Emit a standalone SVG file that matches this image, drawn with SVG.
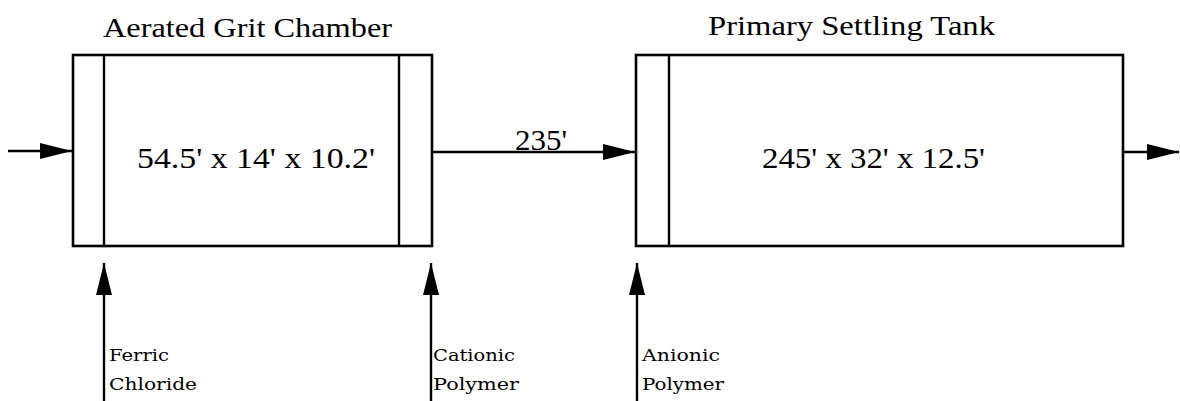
<svg xmlns="http://www.w3.org/2000/svg" width="1180" height="401" viewBox="0 0 1180 401">
<style>
.box{fill:none;stroke:#000;stroke-width:2.6}
.ln{stroke:#000;stroke-width:2.4;fill:none}
.title{font-family:'Liberation Serif','Times New Roman',Tinos,'DejaVu Serif',serif;font-size:28px;fill:#000}
.dim{font-family:'Liberation Serif','Times New Roman',Tinos,'DejaVu Serif',serif;font-size:29px;fill:#000}
.lab{font-family:'DejaVu Serif',serif;font-size:17.5px;fill:#000}
</style>
<defs>
<marker id="ah" viewBox="0 0 32 16" refX="32" refY="8" markerWidth="32" markerHeight="16" markerUnits="userSpaceOnUse" orient="auto">
<path d="M0,0 L32,8 L0,16 Z" fill="#000"/>
</marker>
</defs>
<rect width="1180" height="401" fill="#fff"/>
<g id="grit-chamber">
<rect class="box" x="73" y="55" width="359" height="191"/>
<line class="ln" x1="104" y1="55" x2="104" y2="246"/>
<line class="ln" x1="399" y1="55" x2="399" y2="246"/>
<text class="title" x="103" y="37" textLength="289" lengthAdjust="spacingAndGlyphs">Aerated Grit Chamber</text>
<text class="dim" x="137" y="168" textLength="238" lengthAdjust="spacingAndGlyphs">54.5' x 14' x 10.2'</text>
</g>
<g id="settling-tank">
<rect class="box" x="636" y="55" width="487" height="191"/>
<line class="ln" x1="669" y1="55" x2="669" y2="246"/>
<text class="title" x="708" y="35" textLength="287" lengthAdjust="spacingAndGlyphs">Primary Settling Tank</text>
<text class="dim" x="762" y="168" textLength="223" lengthAdjust="spacingAndGlyphs">245' x 32' x 12.5'</text>
</g>
<g id="connectors">
<line class="ln" x1="8" y1="151" x2="72" y2="151" marker-end="url(#ah)"/>
<line class="ln" x1="432" y1="152" x2="635" y2="152" marker-end="url(#ah)"/>
<text class="dim" x="515" y="150" textLength="52" lengthAdjust="spacingAndGlyphs">235'</text>
<line class="ln" x1="1123" y1="152" x2="1179" y2="152" marker-end="url(#ah)"/>
<line class="ln" x1="104" y1="401" x2="104" y2="263" marker-end="url(#ah)"/>
<line class="ln" x1="431" y1="401" x2="431" y2="263" marker-end="url(#ah)"/>
<line class="ln" x1="637" y1="401" x2="637" y2="263" marker-end="url(#ah)"/>
</g>
<g id="labels">
<text class="lab" x="109" y="361" textLength="60" lengthAdjust="spacingAndGlyphs">Ferric</text>
<text class="lab" x="109" y="390" textLength="88" lengthAdjust="spacingAndGlyphs">Chloride</text>
<text class="lab" x="433" y="361" textLength="82" lengthAdjust="spacingAndGlyphs">Cationic</text>
<text class="lab" x="433" y="390" textLength="86" lengthAdjust="spacingAndGlyphs">Polymer</text>
<text class="lab" x="642" y="361" textLength="78" lengthAdjust="spacingAndGlyphs">Anionic</text>
<text class="lab" x="642" y="390" textLength="82" lengthAdjust="spacingAndGlyphs">Polymer</text>
</g>
</svg>
